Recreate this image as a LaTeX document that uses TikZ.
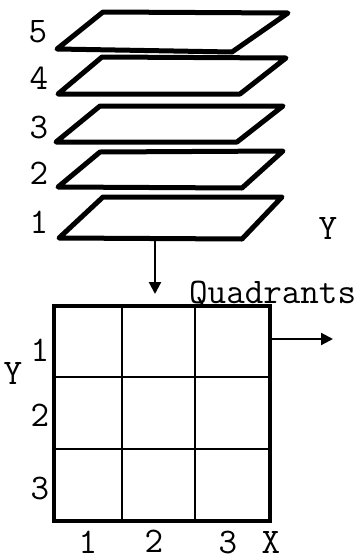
\documentclass[tikz,border=0pt]{standalone}
\usepackage{fontspec}
\usetikzlibrary{arrows.meta}
\begin{document}
\begin{tikzpicture}[x=1pt,y=-1pt,
  plate/.style={line width=5pt,line join=round},
  gridline/.style={line width=2.6pt},
  lbl/.style={inner sep=0pt,font=\fontsize{36}{40}\selectfont\ttfamily},
  arr/.style={line width=2.2pt,-{Triangle[length=12pt,width=12pt]}}]
\useasboundingbox (0,0) rectangle (361,560);
% plates
\draw[plate] (57,49) -- (103,12) -- (288,13) -- (232,52) -- cycle;
\draw[plate] (58,94) -- (102,57) -- (286,58) -- (240,94) -- cycle;
\draw[plate] (56,142) -- (100,106) -- (283,106) -- (237,142) -- cycle;
\draw[plate] (58,187) -- (100,152) -- (283,151) -- (242,188) -- cycle;
\draw[plate] (59,238) -- (103,197) -- (282,197) -- (242,239) -- cycle;
\node[lbl] (l5) at (38,32) {5};
\node[lbl] (l4) at (39,78) {4};
\node[lbl] (l3) at (39,127) {3};
\node[lbl] (l2) at (39,173) {2};
\node[lbl] (l1) at (39,222) {1};
\node[lbl] (ytop) at (328,228) {Y};
% arrow down
\coordinate (pbot) at (155,239);
\coordinate (gtop) at (155,294);
\draw[arr] (pbot) -- (gtop);
% grid
\draw[line width=3.2pt] (54,306) rectangle (270,521);
\draw[gridline] (122,306) -- (122,521);
\draw[gridline] (195,306) -- (195,521);
\draw[gridline] (54,377) -- (270,377);
\draw[gridline] (54,449) -- (270,449);
\node[lbl,anchor=base west] (quad) at (189,303) {Quadrants};
\coordinate (gright) at (270,339);
\coordinate (aright) at (333,339);
\draw[arr] (gright) -- (aright);
\node[lbl] (yl) at (13,373) {Y};
\node[lbl] (r1) at (40,350) {1};
\node[lbl] (r2) at (40,415) {2};
\node[lbl] (r3) at (40,488) {3};
\node[lbl,anchor=base] (c1) at (88,553) {1};
\node[lbl,anchor=base] (c2) at (154,552) {2};
\node[lbl,anchor=base] (c3) at (228,553) {3};
\node[lbl,anchor=base] (cx) at (271,553) {X};
\end{tikzpicture}
\end{document}
